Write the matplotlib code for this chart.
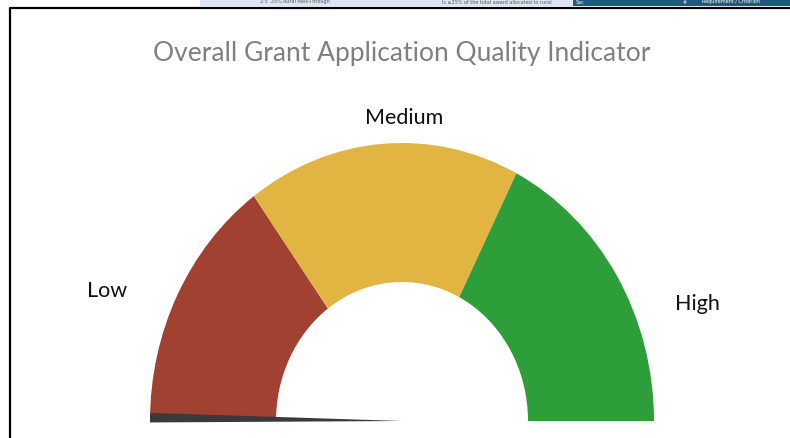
import matplotlib.pyplot as plt
from matplotlib.lines import Line2D
from matplotlib.patches import Rectangle

# gauge bands (share of the half circle, in %)
bands = ['Low', 'Medium', 'High']
band_values = [30, 35, 35]
band_colors = ['#A14131', '#E2B542', '#2E9E3A']

# needle: score and wedge width on the same 0-100 scale
needle_score = 0
needle_width = 1.1

W, H = 790, 438
fig = plt.figure(figsize=(W / 100, H / 100), dpi=100)
fig.patch.set_facecolor('white')

# gauge centre / radii in pixels (the picture is a little stretched vertically)
cx, cy = 402, 421
rx, ry = 252, 278
top_px = cy - ry
ax = fig.add_axes([(cx - rx) / W, 0, 2 * rx / W, (H - top_px) / H])

hidden = sum(band_values)
ax.pie(band_values + [hidden], colors=band_colors + ['none'],
       startangle=180, counterclock=False, radius=1,
       wedgeprops=dict(width=0.5, linewidth=0))

rest = 2 * hidden - needle_score - needle_width
ax.pie([needle_score, needle_width, rest], colors=['none', '#3a3a3a', 'none'],
       startangle=180.3, counterclock=False, radius=1,
       wedgeprops=dict(linewidth=0))

ax.set_aspect('auto')
ax.set_xlim(-1, 1)
ax.set_ylim(-(H - cy) / ry, 1)
ax.axis('off')

# title and band labels
fig.text(402 / W, 1 - 53 / H, 'Overall Grant Application Quality Indicator',
         ha='center', va='center', fontsize=19, color='#808080', family='Lato')
label_pos = [(107, 291), (404, 118), (697, 304)]
for name, (px, py) in zip(bands, label_pos):
    fig.text(px / W, 1 - py / H, name, ha='center', va='center',
             fontsize=15.5, color='#111111', family='Lato')

# screenshot frame and the strip of the window above it
fig.add_artist(Rectangle((200 / W, 1 - 6 / H), 373 / W, 6 / H,
                         transform=fig.transFigure, color='#dbe6f2', lw=0))
fig.add_artist(Rectangle((573 / W, 1 - 6 / H), 217 / W, 6 / H,
                         transform=fig.transFigure, color='#1e5a7a', lw=0))
fig.text(260 / W, 1 - 2 / H, '2.5  25% Rural Pass-Through', fontsize=3.5,
         color='#555555', ha='left', va='center')
fig.text(442 / W, 1 - 2 / H, 'Is \u226525% of the total award allocated to rural', fontsize=3.5,
         color='#555555', ha='left', va='center')
fig.text(576 / W, 1 - 2 / H, 'Sec', fontsize=3.5, color='white', ha='left', va='center')
fig.text(683 / W, 1 - 2 / H, '#', fontsize=3.5, color='white', ha='left', va='center')
fig.text(702 / W, 1 - 2 / H, 'Requirement / Criterion', fontsize=3.5, color='white',
         ha='left', va='center')
fig.add_artist(Line2D([10 / W, 10 / W, 1], [0, 1 - 7.5 / H, 1 - 7.5 / H],
                      transform=fig.transFigure, color='black', lw=1.6))

fig.savefig('out.png', dpi=100)
